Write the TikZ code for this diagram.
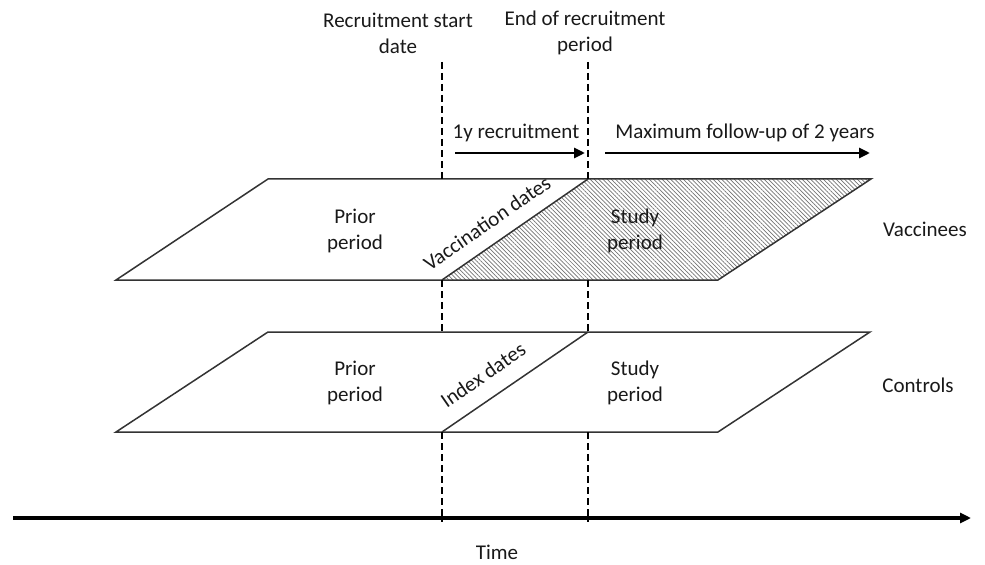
\documentclass[tikz,border=0pt]{standalone}
\usepackage{fontspec}
\setmainfont{Carlito}
\usetikzlibrary{arrows.meta,patterns.meta}
\begin{document}
\begin{tikzpicture}[x=1bp,y=-1bp,
  lbl/.style={font=\fontsize{21bp}{26bp}\selectfont, align=center, inner sep=0pt, text=black!90},
  box/.style={draw=black!80, line width=1.5bp},
  dashline/.style={line width=2.4bp, dash pattern=on 7bp off 4bp},
  arr/.style={line width=2.8bp, -{Triangle[length=11bp,width=10bp]}},
  hatch/.style={pattern={Lines[angle=-45,distance=3bp,line width=0.7bp]}, pattern color=black!55},
  ]
\useasboundingbox (0,0) rectangle (985,565);
% vaccinees box
\coordinate (vTL) at (268,179);
\coordinate (vTR) at (871,179);
\coordinate (vBR) at (718,280);
\coordinate (vBL) at (116,280);
\coordinate (vD1) at (442,280);
\coordinate (vD2) at (588,179);
% controls box
\coordinate (cTL) at (268,332);
\coordinate (cTR) at (870,332);
\coordinate (cBR) at (718,432);
\coordinate (cBL) at (116,432);
\coordinate (cD1) at (442,432);
\coordinate (cD2) at (588,332);
% dashed line ends
\coordinate (aTop) at (442,62);
\coordinate (bTop) at (588,62);
\coordinate (aBot) at (442,522);
\coordinate (bBot) at (588,522);
% time axis
\coordinate (t0) at (13,518);
\coordinate (t1) at (971,518);
% arrows
\coordinate (r0) at (455,153);
\coordinate (r1) at (585,153);
\coordinate (m0) at (605,153);
\coordinate (m1) at (870,153);

\fill[hatch] (vD1) -- (vD2) -- (vTR) -- (vBR) -- cycle;
\draw[box] (vBL) -- (vTL) -- (vTR) -- (vBR) -- cycle;
\draw[box] (vD1) -- (vD2);
\draw[box] (cBL) -- (cTL) -- (cTR) -- (cBR) -- cycle;
\draw[box] (cD1) -- (cD2);

\draw[dashline] (aTop) -- (aTop |- vTL);
\draw[dashline] (bTop) -- (bTop |- vTL);
\draw[dashline] (vD1) -- (vD1 |- cTL);
\draw[dashline] (bTop |- vBL) -- (cD2);
\draw[dashline] (cD1) -- (aBot);
\draw[dashline] (bTop |- cBL) -- (bBot);

\draw[line width=3.5bp, -{Triangle[length=11bp,width=10bp]}] (t0) -- (t1);
\draw[arr] (r0) -- (r1);
\draw[arr] (m0) -- (m1);

\node[lbl] (rs) at (398,33) {Recruitment start\\date};
\node[lbl] (er) at (585,33) {End of recruitment\\period};
\node[lbl] (ry) at (516,133) {1y recruitment};
\node[lbl] (mf) at (745,133) {Maximum follow-up of 2 years};
\node[lbl] (vp) at (355,231) {Prior\\period};
\node[lbl] (vs) at (635,231) {Study\\period};
\node[lbl] (cp) at (355,383) {Prior\\period};
\node[lbl] (cs) at (635,383) {Study\\period};
\node[lbl] (vac) at (925,229) {Vaccinees};
\node[lbl] (con) at (918,385) {Controls};
\node[lbl] (time) at (497,552) {Time};
\node[lbl, rotate=34.7] (vd) at (487,223) {Vaccination dates};
\node[lbl, rotate=34.7] (id) at (483,375) {Index dates};
\end{tikzpicture}
\end{document}
